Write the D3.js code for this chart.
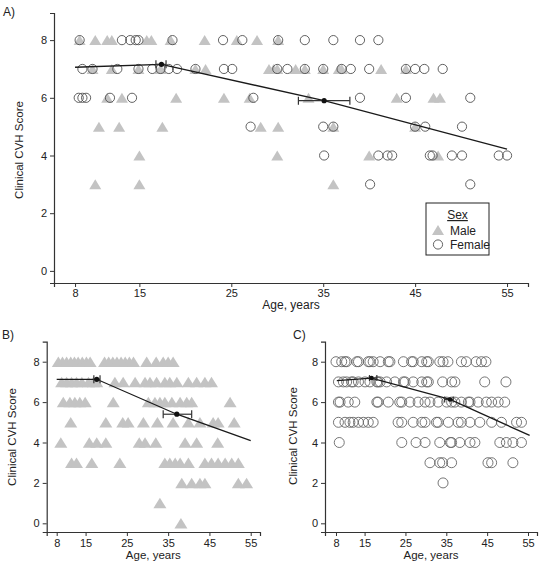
<!DOCTYPE html>
<html><head><meta charset="utf-8">
<script src="https://cdn.jsdelivr.net/npm/d3@7"></script>
<style>
body{margin:0;background:#fff}
svg{display:block}
text{font-family:"Liberation Sans",Arial,Helvetica,sans-serif;fill:#222}
</style>
</head><body>
<svg id="c" width="540" height="566"></svg>
<script>
// ---------- DATA ----------
const xTicks = [8, 15, 25, 35, 45, 55];
const yTicks = [0, 2, 4, 6, 8];
const panelLabels = ["A)", "B)", "C)"];
const yTitle = "Clinical CVH Score";
const xTitle = "Age, years";
const legendTitle = "Sex";
const legendItems = ["Male", "Female"];

// Panel A: [age, score]
const aMale = [
  [8.5,8],[10.2,8],[11.5,8],[12.0,8],[15.8,8],[16.3,8],[18.4,8],[22.1,8],[25.6,8],[27.8,8],[30.1,8],
  [9.9,7],[12.0,7],[14.9,7],[17.3,7],[21.1,7],[22.2,7],[29.1,7],[29.6,7],[30.0,7],[32.0,7],[33.0,7],[35.0,7],[36.7,7],[37.0,7],[41.3,7],[44.0,7],
  [11.5,6],[13.1,6],[19.0,6],[24.2,6],[27.0,6],[33.4,6],[43.0,6],[47.0,6],[47.7,6],
  [10.6,5],[12.8,5],[17.5,5],[28.2,5],[30.1,5],[36.1,5],[45.0,5],
  [15.0,4],[30.0,4],[40.0,4],[47.5,4],
  [10.2,3],[15.0,3],[36.1,3]
];
const aFemale = [
  [8.5,8],[13.1,8],[14.0,8],[14.6,8],[14.9,8],[18.6,8],[24.1,8],[26.2,8],[30.1,8],[33.0,8],[36.1,8],[39.0,8],[41.0,8],
  [8.8,7],[9.9,7],[12.6,7],[14.9,7],[16.4,7],[17.3,7],[18.2,7],[19.1,7],[21.1,7],[24.2,7],[25.1,7],[30.0,7],[31.1,7],[33.0,7],[35.0,7],[37.0,7],[38.0,7],[40.0,7],[44.0,7],[45.0,7],[46.0,7],[48.0,7],
  [8.4,6],[8.8,6],[9.2,6],[11.8,6],[14.2,6],[27.4,6],[39.0,6],[44.0,6],[51.0,6],
  [27.1,5],[35.0,5],[36.1,5],[45.0,5],[46.1,5],[50.1,5],
  [35.1,4],[41.0,4],[42.0,4],[42.5,4],[46.6,4],[46.9,4],[49.0,4],[50.1,4],[54.1,4],[55.0,4],
  [40.1,3],[51.0,3]
];
const aFitAge = [8, 17.4, 35.1, 55];
const aFitScore = [7.06, 7.16, 5.90, 4.22];
const aBreakAge = [17.4, 35.1];
const aBreakScore = [7.16, 5.90];
const aBreakLo = [16.8, 32.3];
const aBreakHi = [17.9, 37.9];

// Panel B (males): [age, score]
const bMale = [
  [8.4,8],[9.4,8],[10.4,8],[11.4,8],[12.3,8],[13.2,8],[14.2,8],[15.2,8],[16.1,8],
  [19.6,8],[20.6,8],[21.6,8],[22.6,8],[23.6,8],[24.6,8],[25.6,8],[26.6,8],
  [29.8,8],[32.1,8],[33.8,8],[35.0,8],[36.2,8],
  [9.2,7],[10.4,7],[11.6,7],[12.8,7],[14.1,7],[15.7,7],[16.9,7],[17.7,7],[22.1,7],[24.1,7],[27.0,7],[29.4,7],[30.6,7],[32.2,7],[34.2,7],[35.4,7],[37.1,7],[39.9,7],[41.9,7],[43.9,7],[45.5,7],
  [9.6,6],[11.2,6],[12.4,6],[13.6,6],[14.9,6],[21.7,6],[30.2,6],[31.8,6],[33.0,6],[34.2,6],[35.9,6],[37.9,6],[39.5,6],[40.7,6],[50.0,6],
  [11.4,5],[19.9,5],[24.0,5],[25.3,5],[29.0,5],[32.4,5],[36.2,5],[39.9,5],[42.7,5],[45.9,5],[47.1,5],[51.0,5],
  [9.0,4],[15.9,4],[17.7,4],[19.9,4],[28.0,4],[29.4,4],[32.0,4],[39.1,4],[41.9,4],[47.0,4],
  [11.6,3],[12.8,3],[16.5,3],[23.3,3],[34.2,3],[35.4,3],[36.7,3],[37.9,3],[39.9,3],[43.9,3],[45.5,3],[47.1,3],[48.8,3],[50.4,3],[52.0,3],
  [38.3,2],[40.7,2],[42.7,2],[43.9,2],[52.0,2],[54.0,2],
  [33.0,1],
  [38.1,0]
];
const bFitAge = [8, 17.7, 37.1, 55];
const bFitScore = [7.13, 7.13, 5.40, 4.09];
const bBreakAge = [17.7, 37.1];
const bBreakScore = [7.13, 5.40];
const bBreakLo = [17.0, 33.8];
const bBreakHi = [18.5, 40.7];

// Panel C (females): [age, score]
const cFemale = [
  [8.0,8],[9.4,8],[10.2,8],[10.6,8],[13.1,8],[13.5,8],[15.9,8],[16.3,8],[17.1,8],[18.8,8],[20.8,8],[21.2,8],[24.5,8],[26.5,8],[26.9,8],[29.0,8],[30.2,8],[30.6,8],[33.4,8],[34.2,8],[35.4,8],[38.7,8],[39.9,8],[42.3,8],[43.6,8],[44.7,8],
  [8.6,7],[9.8,7],[10.6,7],[11.8,7],[12.2,7],[13.5,7],[15.1,7],[16.3,7],[18.0,7],[18.3,7],[18.8,7],[20.4,7],[22.4,7],[24.5,7],[24.9,7],[26.9,7],[29.0,7],[30.2,7],[30.6,7],[34.1,7],[36.3,7],[37.1,7],[44.4,7],[49.6,7],
  [8.6,6],[9.0,6],[11.0,6],[12.6,6],[18.0,6],[18.3,6],[20.8,6],[23.6,6],[24.1,6],[26.1,6],[28.1,6],[29.8,6],[31.0,6],[33.0,6],[35.1,6],[36.3,6],[37.1,6],[38.7,6],[40.4,6],[40.8,6],[42.8,6],[44.8,6],[46.1,6],[47.7,6],[49.3,6],
  [8.6,5],[10.2,5],[11.4,5],[12.2,5],[13.5,5],[14.7,5],[15.9,5],[17.1,5],[23.2,5],[24.1,5],[26.9,5],[29.0,5],[29.8,5],[32.6,5],[33.0,5],[35.5,5],[37.9,5],[38.7,5],[40.8,5],[43.2,5],[46.1,5],[48.5,5],[52.2,5],[53.4,5],
  [8.8,4],[24.1,4],[27.6,4],[29.8,4],[33.4,4],[36.0,4],[36.3,4],[38.3,4],[40.8,4],[42.0,4],[48.1,4],[49.7,4],[51.3,4],[53.4,4],
  [31.0,3],[33.4,3],[34.1,3],[36.3,3],[45.2,3],[46.1,3],[51.3,3],
  [34.2,2]
];
const cFitAge = [8.2, 16.7, 35.9, 55.4];
const cFitScore = [7.06, 7.19, 6.13, 4.35];
const cBreakAge = [16.7, 35.9];
const cBreakScore = [7.19, 6.13];
const cBreakLo = [16.2, 34.6];
const cBreakHi = [18.0, 36.7];

// ---------- DRAWING ----------
const svg = d3.select("#c");
const TRI_FILL = "#c3c3c3";

function triPath(cx, cy, w, h) {
  return `M${cx - w/2},${cy + h/2}L${cx},${cy - h/2}L${cx + w/2},${cy + h/2}Z`;
}

function drawPanel(o) {
  const g = svg.append("g");
  const x = d3.scaleLinear().domain(o.xDomain).range(o.xRange);
  const y = d3.scaleLinear().domain(o.yDomain).range(o.yRange);

  const xa = g.append("g").attr("transform", `translate(0,${o.yRange[0]})`)
    .call(d3.axisBottom(x).tickValues(xTicks).tickSizeOuter(0).tickSize(4).tickPadding(o.xPad));
  const ya = g.append("g").attr("transform", `translate(${o.xRange[0]},0)`)
    .call(d3.axisLeft(y).tickValues(yTicks).tickSizeOuter(0).tickSize(4).tickPadding(3));
  [xa, ya].forEach(a => {
    a.select(".domain").attr("stroke", "#333").attr("stroke-width", 1.2);
    a.selectAll(".tick line").attr("stroke", "#333");
    a.selectAll(".tick text").attr("font-size", o.tickFont).attr("fill", "#222")
      .attr("font-family", '"Liberation Sans",Arial,sans-serif');
  });

  g.append("text").attr("x", (o.xRange[0] + o.xRange[1]) / 2 + o.xTitleDx).attr("y", o.xTitleY)
    .attr("text-anchor", "middle").attr("font-size", o.xTitleFont).text(xTitle);
  g.append("text").attr("transform", `translate(${o.yTitleX},${o.yTitleY}) rotate(-90)`)
    .attr("text-anchor", "middle").attr("font-size", o.yTitleFont).text(yTitle);
  g.append("text").attr("x", o.labelX).attr("y", o.labelY).attr("font-size", 12).text(o.label);

  if (o.male) {
    g.append("g").selectAll("path").data(o.male).join("path")
      .attr("d", d => triPath(x(d[0]), y(d[1]), o.triW, o.triH))
      .attr("fill", TRI_FILL);
  }
  if (o.female) {
    g.append("g").selectAll("circle").data(o.female).join("circle")
      .attr("cx", d => x(d[0])).attr("cy", d => y(d[1])).attr("r", o.r)
      .attr("fill", "none").attr("stroke", o.circStroke).attr("stroke-width", 0.9);
  }

  const line = d3.line().x(d => x(d[0])).y(d => y(d[1]));
  g.append("path").datum(o.fitAge.map((a, i) => [a, o.fitScore[i]]))
    .attr("d", line).attr("fill", "none").attr("stroke", "#1a1a1a").attr("stroke-width", 1.3);

  o.bAge.forEach((a, i) => {
    const yy = y(o.bScore[i]);
    const x0 = x(o.bLo[i]), x1 = x(o.bHi[i]);
    g.append("line").attr("x1", x0).attr("x2", x1).attr("y1", yy).attr("y2", yy)
      .attr("stroke", "#333").attr("stroke-width", 1.2);
    [x0, x1].forEach(xx => g.append("line").attr("x1", xx).attr("x2", xx)
      .attr("y1", yy - o.cap).attr("y2", yy + o.cap).attr("stroke", "#333").attr("stroke-width", 1.2));
    g.append("circle").attr("cx", x(a)).attr("cy", yy).attr("r", o.dotR).attr("fill", "#111");
  });
  return {g, x, y};
}

// Panel A
drawPanel({
  xDomain: [5.71, 57.28], xRange: [54, 528],
  yDomain: [-0.42, 8.94], yRange: [283, 13],
  tickFont: 11, xTitleFont: 12, yTitleFont: 11.5, xPad: 2,
  xTitleDx: 0, xTitleY: 309,
  yTitleX: 23, yTitleY: 150,
  labelX: 3, labelY: 16, label: panelLabels[0],
  male: aMale, female: aFemale, triW: 12, triH: 10, r: 4.6, circStroke: "#505050",
  fitAge: aFitAge, fitScore: aFitScore,
  bAge: aBreakAge, bScore: aBreakScore, bLo: aBreakLo, bHi: aBreakHi, cap: 4, dotR: 2.6
});

// Legend (panel A)
const lg = svg.append("g");
lg.append("rect").attr("x", 426).attr("y", 203).attr("width", 63).attr("height", 52)
  .attr("fill", "#fff").attr("stroke", "#222").attr("stroke-width", 1);
lg.append("text").attr("x", 457.5).attr("y", 219).attr("text-anchor", "middle")
  .attr("font-size", 12).attr("text-decoration", "underline").text(legendTitle);
lg.append("path").attr("d", triPath(438, 230, 12, 10)).attr("fill", TRI_FILL);
lg.append("circle").attr("cx", 438).attr("cy", 244.5).attr("r", 4.6).attr("fill", "none")
  .attr("stroke", "#505050").attr("stroke-width", 0.9);
lg.append("text").attr("x", 450).attr("y", 235).attr("font-size", 12).text(legendItems[0]);
lg.append("text").attr("x", 450).attr("y", 249).attr("font-size", 12).text(legendItems[1]);

// Panel B
drawPanel({
  xDomain: [5.58, 57.25], xRange: [46.7, 260],
  yDomain: [-0.43, 8.99], yRange: [532, 341.7],
  tickFont: 11, xTitleFont: 11.5, yTitleFont: 11.5, xPad: 3,
  xTitleDx: 0, xTitleY: 559,
  yTitleX: 16, yTitleY: 437,
  labelX: 2, labelY: 339, label: panelLabels[1],
  male: bMale, triW: 13, triH: 10.5,
  fitAge: bFitAge, fitScore: bFitScore,
  bAge: bBreakAge, bScore: bBreakScore, bLo: bBreakLo, bHi: bBreakHi, cap: 4, dotR: 2.6
});

// Panel C
drawPanel({
  xDomain: [5.31, 57.2], xRange: [325, 537],
  yDomain: [-0.43, 8.99], yRange: [532, 341.7],
  tickFont: 11, xTitleFont: 11.5, yTitleFont: 11.5, xPad: 3,
  xTitleDx: 0, xTitleY: 559,
  yTitleX: 297, yTitleY: 436,
  labelX: 293, labelY: 339, label: panelLabels[2],
  female: cFemale, r: 5, circStroke: "#666",
  fitAge: cFitAge, fitScore: cFitScore,
  bAge: cBreakAge, bScore: cBreakScore, bLo: cBreakLo, bHi: cBreakHi, cap: 3, dotR: 2.3
});
</script>
</body></html>
